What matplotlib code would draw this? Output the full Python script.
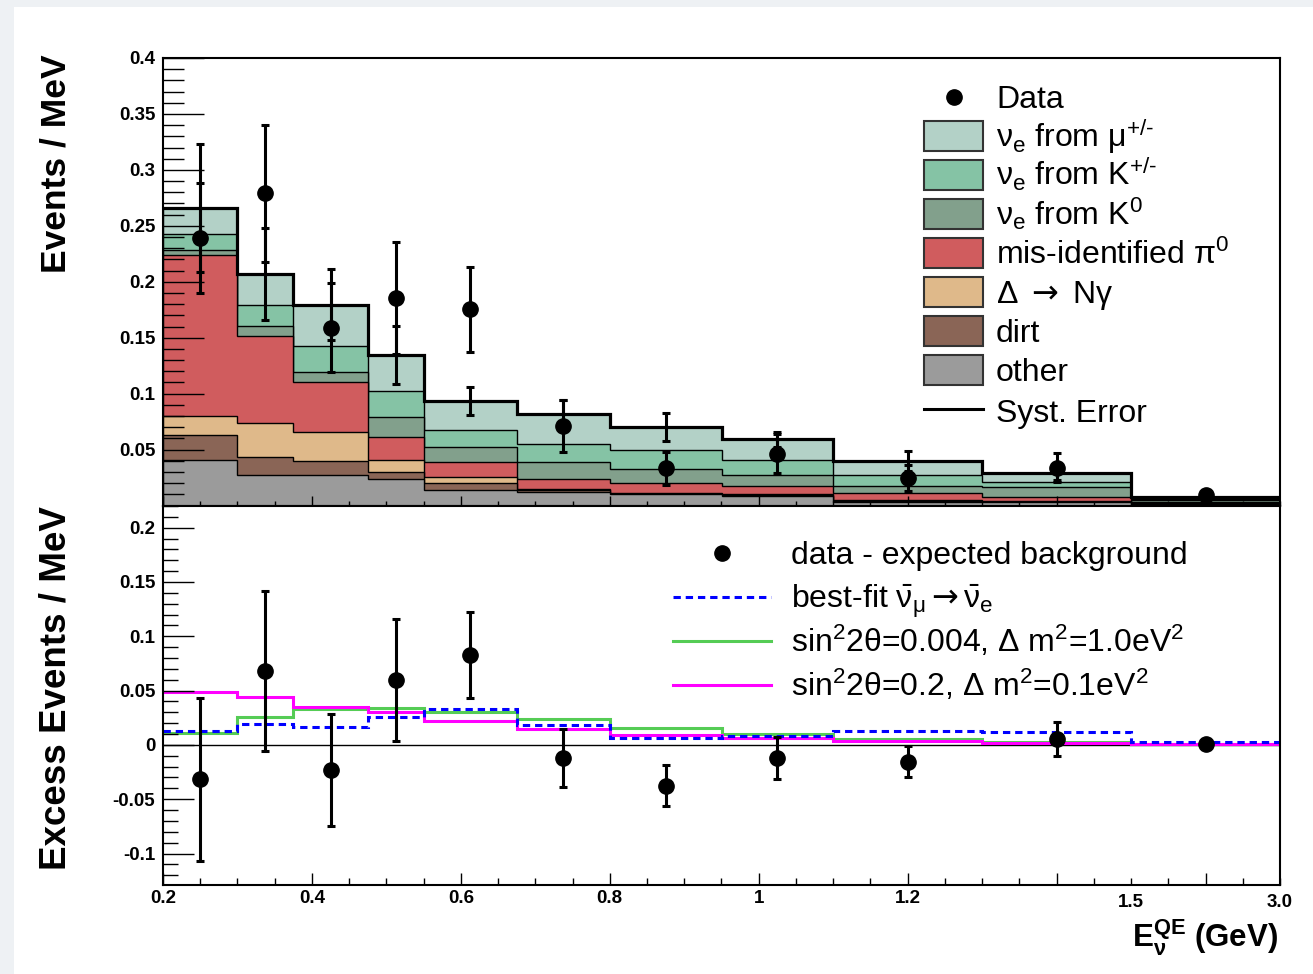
import numpy as np
import matplotlib
matplotlib.use('Agg')
import matplotlib.pyplot as plt
from matplotlib import ticker
from matplotlib.patches import Rectangle
from matplotlib.lines import Line2D
from matplotlib.transforms import blended_transform_factory

plt.rcParams['font.family'] = ['Liberation Sans', 'DejaVu Sans']
plt.rcParams['font.weight'] = 'bold'
plt.rcParams['mathtext.fontset'] = 'custom'
plt.rcParams['mathtext.rm'] = 'Liberation Sans:weight=normal'
plt.rcParams['mathtext.it'] = 'Liberation Sans:weight=normal'
plt.rcParams['mathtext.bf'] = 'Liberation Sans:weight=bold'
plt.rcParams['mathtext.sf'] = 'DejaVu Sans:weight=normal'
plt.rcParams['mathtext.default'] = 'regular'

# energy bins (GeV); the last bin 1.5-3.0 is squeezed on the axis
edges = np.array([0.2, 0.3, 0.375, 0.475, 0.55, 0.675, 0.8, 0.95, 1.1, 1.3, 1.5, 3.0])

# stacked backgrounds, bottom to top (events / MeV)
other = [0.0410, 0.0270, 0.0270, 0.0234, 0.0138, 0.0123, 0.0100, 0.0088, 0.0035, 0.0030, 0.0010]
dirt = [0.0219, 0.0160, 0.0130, 0.0068, 0.0060, 0.0015, 0.0003, 0.0007, 0.0007, 0.0005, 0.0005]
delta_ng = [0.0169, 0.0303, 0.0258, 0.0104, 0.0059, 0.0012, 0.0011, 0.0005, 0.0007, 0.0005, 0.0005]
pi0 = [0.1437, 0.0779, 0.0447, 0.0202, 0.0134, 0.0084, 0.0084, 0.0074, 0.0060, 0.0039, 0.0015]
nue_k0 = [0.0050, 0.0092, 0.0089, 0.0184, 0.0134, 0.0151, 0.0128, 0.0098, 0.0068, 0.0083, 0.0015]
nue_kpm = [0.0146, 0.0185, 0.0232, 0.0229, 0.0148, 0.0161, 0.0166, 0.0131, 0.0095, 0.0050, 0.0010]
nue_mu = [0.0226, 0.0282, 0.0369, 0.0322, 0.0259, 0.0273, 0.0214, 0.0188, 0.0125, 0.0075, 0.0015]
syst_err = [0.057, 0.041, 0.032, 0.026, 0.0127, 0.012, 0.0125, 0.0067, 0.0092, 0.006, 0.002]

data = [0.2389, 0.2790, 0.1590, 0.1855, 0.1755, 0.0712, 0.0332, 0.0461, 0.0247, 0.0339, 0.0090]
data_err = [0.049, 0.061, 0.040, 0.050, 0.038, 0.0235, 0.015, 0.0174, 0.0115, 0.0132, 0.003]

# lower panel: excess and oscillation predictions
excess = [-0.0316, 0.0681, -0.0233, 0.0598, 0.0825, -0.0123, -0.0377, -0.0120, -0.0153, 0.0052, 0.0010]
excess_err = [0.075, 0.0736, 0.0514, 0.0563, 0.0394, 0.0267, 0.019, 0.0196, 0.014, 0.0158, 0.002]
best_fit = [0.0129, 0.0193, 0.0169, 0.0255, 0.0331, 0.0180, 0.0068, 0.0086, 0.0129, 0.0120, 0.0025]
osc_high_dm2 = [0.0107, 0.0258, 0.0328, 0.0344, 0.0307, 0.0236, 0.0160, 0.0101, 0.0055, 0.0030, 0.0005]
osc_low_dm2 = [0.0490, 0.0439, 0.0350, 0.0304, 0.0224, 0.0150, 0.0092, 0.0068, 0.0037, 0.0015, 0.0005]

xtick_labels = ['0.2', '0.4', '0.6', '0.8', '1', '1.2', '', '']

stack = [other, dirt, delta_ng, pi0, nue_k0, nue_kpm, nue_mu]
stack_colors = ['#9b9b9b', '#8a6556', '#dfb98a', '#d05c5e', '#82a08c', '#85c3a5', '#b3d1c7']
stack_labels = [r'$\nu_{e}$ from $\mu^{\text{+/-}}$', r'$\nu_{e}$ from K$^{\text{+/-}}$',
                r'$\nu_{e}$ from K$^{0}$', r'mis-identified $\pi^{0}$',
                r'$\Delta$ $\mathsf{\rightarrow}$ N$\gamma$', 'dirt', 'other']


def fwd(x):
    x = np.asarray(x, dtype=float)
    return np.where(x <= 1.5, x, 1.5 + (x - 1.5) * 0.2 / 1.5)


def inv(u):
    u = np.asarray(u, dtype=float)
    return np.where(u <= 1.5, u, 1.5 + (u - 1.5) * 1.5 / 0.2)


centers = inv((fwd(edges[:-1]) + fwd(edges[1:])) / 2)

W, H = 1313, 974
fig = plt.figure(figsize=(W / 100, H / 100), dpi=100)
fig.patch.set_facecolor('#eef1f4')
fig.add_artist(Rectangle((14 / W, 0), 1, 1 - 7 / H, transform=fig.transFigure,
                         facecolor='white', edgecolor='none', zorder=-10))


def fbox(x0, y0, x1, y1):
    return [x0 / W, 1 - y1 / H, (x1 - x0) / W, (y1 - y0) / H]


def fpt(x, y):
    return x / W, 1 - y / H


ax1 = fig.add_axes(fbox(163, 58, 1280, 505.5))
ax2 = fig.add_axes(fbox(163, 505.5, 1280, 885))


def yfmt(v, pos):
    v = round(v, 3) + 0.0
    return f'{v:g}'


def yfmt_top(v, pos):
    if abs(v) < 1e-9:
        return ''
    return yfmt(v, pos)


for ax in (ax1, ax2):
    ax.set_xscale('function', functions=(fwd, inv))
    ax.set_xlim(0.2, 3.0)
    ax.xaxis.set_major_locator(ticker.FixedLocator(inv(np.arange(0.2, 1.71, 0.2))))
    ax.xaxis.set_minor_locator(ticker.FixedLocator(inv(np.arange(0.2, 1.701, 0.05))))
    ax.yaxis.set_major_locator(ticker.MultipleLocator(0.05))
    ax.yaxis.set_minor_locator(ticker.MultipleLocator(0.01))
    for s in ax.spines.values():
        s.set_linewidth(1.5)
    ax.tick_params(which='both', direction='in', width=1, labelsize=13.5, pad=5.5)

# upper panel
cum = np.cumsum(np.array(stack), axis=0)
for i in range(len(stack) - 1, -1, -1):
    ax1.stairs(cum[i], edges, baseline=0, fill=True, facecolor=stack_colors[i],
               edgecolor='black', linewidth=1.0)
total = cum[-1]
ax1.stairs(total, edges, baseline=None, color='black', linewidth=2.3, zorder=3)
ax1.errorbar(centers, total, yerr=syst_err, fmt='none', ecolor='black',
             elinewidth=2.2, capsize=3, capthick=2.2, zorder=5)
ax1.errorbar(centers, data, yerr=data_err, fmt='o', color='black', ms=11,
             elinewidth=2.2, capsize=3, capthick=2.2, zorder=6)
ax1.set_ylim(0, 0.4)
ax1.yaxis.set_major_formatter(ticker.FuncFormatter(yfmt_top))
ax1.xaxis.set_major_formatter(ticker.NullFormatter())
ax1.tick_params(axis='y', which='major', length=29.5)
ax1.tick_params(axis='y', which='minor', length=15)
ax1.tick_params(axis='x', which='major', length=7.2)
ax1.tick_params(axis='x', which='minor', length=3.6)

# lower panel
ax2.axhline(0, color='black', linewidth=1, zorder=1)
ax2.stairs(osc_high_dm2, edges, baseline=None, color='#55cc55', linewidth=2.2)
ax2.stairs(osc_low_dm2, edges, baseline=None, color='#ff00ff', linewidth=2.2)
ax2.stairs(best_fit, edges, baseline=None, color='#0000ff', linewidth=2.2,
           linestyle=(0, (2.4, 1.6)))
ax2.errorbar(centers, excess, yerr=excess_err, fmt='o', color='black', ms=11,
             elinewidth=2.2, capsize=3, capthick=2.2, zorder=6)
ax2.set_ylim(-0.129, 0.2204)
ax2.yaxis.set_major_formatter(ticker.FuncFormatter(yfmt))
ax2.xaxis.set_major_formatter(ticker.FixedFormatter(xtick_labels))
ax2.tick_params(axis='y', which='major', length=22)
ax2.tick_params(axis='y', which='minor', length=11)
ax2.tick_params(axis='x', which='major', length=8.6, pad=3.5)
ax2.tick_params(axis='x', which='minor', length=5)
trans = blended_transform_factory(ax2.transData, ax2.transAxes)
for xv, lab in [(1.5, '1.5'), (3.0, '3.0')]:
    ax2.text(xv, -0.047, lab, transform=trans, ha='center', va='center',
             fontsize=13.5, fontweight='bold')

# axis titles
fig.text(*fpt(56, 164), 'Events / MeV', rotation=90, ha='center', va='center',
         fontsize=25.5, fontweight='bold')
fig.text(*fpt(56, 688), 'Excess Events / MeV', rotation=90, ha='center', va='center',
         fontsize=26.5, fontweight='bold')
fig.text(*fpt(1278, 947), r'E$_{\nu}^{QE}$ (GeV)', ha='right', va='baseline',
         fontsize=22.5, fontweight='bold')

# upper legend
rows = [97 + 39 * i for i in range(9)]
fig.add_artist(Line2D([fpt(954, 0)[0]], [fpt(0, rows[0])[1]], marker='o', ms=11,
                      color='black', linestyle='none'))
fig.text(*fpt(996, rows[0] + 11), 'Data', fontsize=23, fontweight='normal', va='baseline')
for k in range(7):
    col = stack_colors[6 - k]
    y = rows[k + 1]
    fig.add_artist(Rectangle(fpt(924, y + 15), 59 / W, 30 / H, transform=fig.transFigure,
                             facecolor=col, edgecolor='#333333', linewidth=1.5))
    fig.text(*fpt(996, y + 11), stack_labels[k], fontsize=23, fontweight='normal', va='baseline')
fig.add_artist(Line2D([924 / W, 983 / W], [fpt(0, rows[8])[1]] * 2, color='black', lw=2.2))
fig.text(*fpt(996, rows[8] + 13), 'Syst. Error', fontsize=23, fontweight='normal', va='baseline')

# lower legend
rows2 = [553 + 44 * i for i in range(4)]
fig.add_artist(Line2D([fpt(722, 0)[0]], [fpt(0, rows2[0])[1]], marker='o', ms=11,
                      color='black', linestyle='none'))
leg2 = [('data - expected background', None, None),
        (r'best-fit $\bar{\nu}_{\mu}\mathsf{\rightarrow}\bar{\nu}_{e}$', '#0000ff', (0, (2.4, 1.6))),
        (r'sin$^{2}$2$\theta$=0.004, $\Delta$ m$^{2}$=1.0eV$^{2}$', '#55cc55', '-'),
        (r'sin$^{2}$2$\theta$=0.2, $\Delta$ m$^{2}$=0.1eV$^{2}$', '#ff00ff', '-')]
for (lab, col, ls), y in zip(leg2, rows2):
    if col is not None:
        fig.add_artist(Line2D([673 / W, 771 / W], [fpt(0, y)[1]] * 2, color=col, lw=2.2,
                              linestyle=ls))
    fig.text(*fpt(791, y + 11), lab, fontsize=23, fontweight='normal', va='baseline')

fig.savefig('out.png', dpi=100, facecolor=fig.get_facecolor())
